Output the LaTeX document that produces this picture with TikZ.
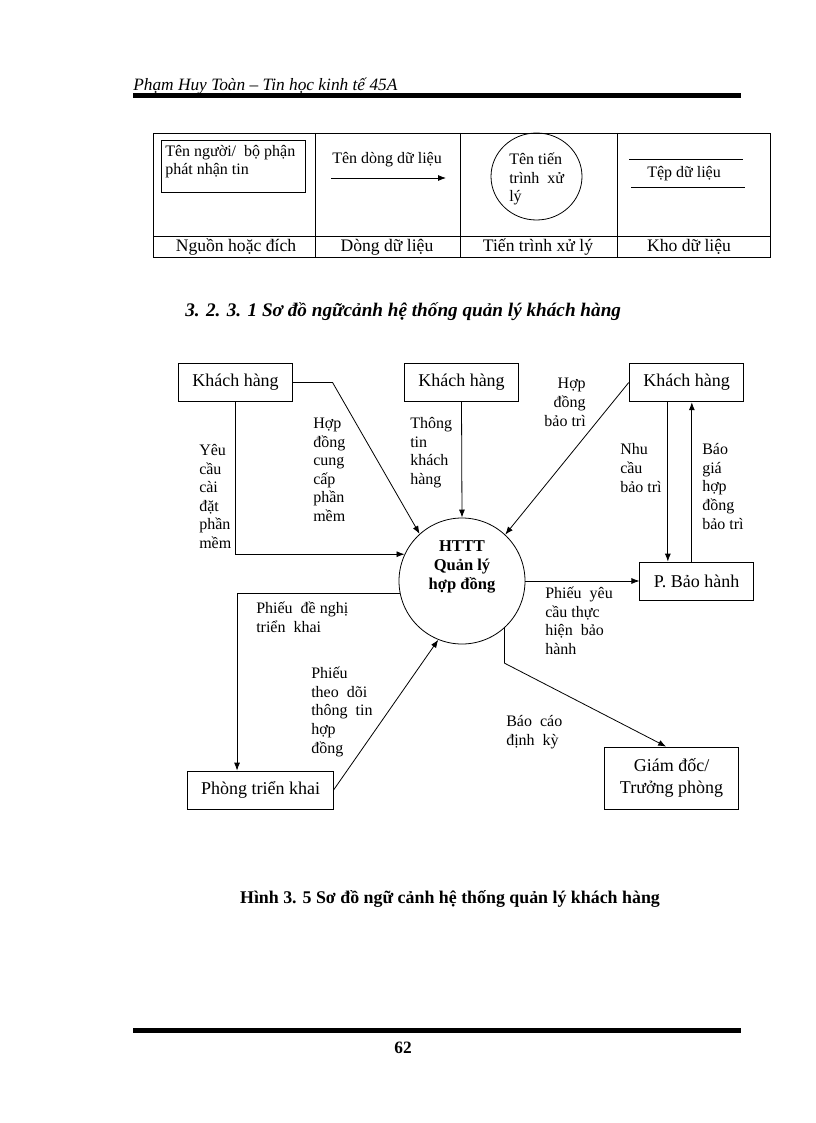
\documentclass[tikz,border=0pt]{standalone}
\usepackage{fontspec}
\setmainfont{Liberation Serif}
\usetikzlibrary{arrows.meta,positioning,calc}
\tikzset{
  ent/.style ={draw,line width=0.6pt,inner sep=0pt,align=center,font=\fontsize{13.5}{16.5}\selectfont},
  proc/.style={draw,line width=0.6pt,circle,inner sep=0pt,minimum size=94.5pt},
  flow/.style={draw,line width=0.6pt,-{Latex[length=6pt,width=4.5pt]}},
  lbl/.style ={inner sep=0pt,anchor=base west,align=left,font=\fontsize{12}{13.9}\selectfont},
  hdr/.style ={inner sep=0pt,anchor=base,font=\fontsize{13.2}{16}\selectfont},
  rule/.style={line width=3.75pt},
}

\begin{document}
\begin{tikzpicture}[x=0.75pt,y=-0.75pt]
  \useasboundingbox[fill=white] (0,0) rectangle (816,1123);

  % page head and foot
  \node[anchor=base west,inner sep=0pt,font=\fontsize{13}{15}\selectfont\itshape] (head) at (133,91)
    {Phạm Huy Toàn – Tin học kinh tế 45A};
  \draw[rule] (133,96) -- (741,96);
  \draw[rule] (133,1030) -- (741,1030);
  \node[anchor=base,inner sep=0pt,font=\fontsize{13}{15}\selectfont\bfseries] (pgno) at (403,1053) {62};

  % legend table
  \draw[line width=0.6pt] (153,133) rectangle (770,257);
  \draw[line width=0.6pt] (153,236) -- (770,236);
  \foreach \cx in {315,460,617}
    \draw[line width=0.6pt] (\cx,133) -- (\cx,257);
  \node[ent,minimum width=108pt,minimum height=39pt] (srcbox) at (233,166) {};
  \node[lbl] (srctxt) at (165,175) {Tên người/\ \ bộ phận\\phát nhận tin};
  \node[lbl] (flowtxt) at (332,164) {Tên dòng dữ liệu};
  \coordinate (fa) at (331,178);
  \coordinate (fb) at (446,178);
  \draw[flow] (fa) -- (fb);
  \draw[line width=0.6pt] (536.5,176.5) ellipse [x radius=45.5, y radius=43.5];
  \node[lbl] (proctxt) at (509,202) {Tên tiến\\trình\ \ xử\\lý};
  \draw[line width=0.6pt] (629,159) -- (743,159);
  \draw[line width=0.6pt] (631,187) -- (745,187);
  \node[lbl] (storetxt) at (647,178) {Tệp dữ liệu};
  \node[hdr] (h1) at (236,252) {Nguồn hoặc đích};
  \node[hdr] (h2) at (387,252) {Dòng dữ liệu};
  \node[hdr] (h3) at (538,252) {Tiến trình xử lý};
  \node[hdr] (h4) at (689,252) {Kho dữ liệu};

  % section title
  \node[anchor=base west,inner sep=0pt,font=\fontsize{14.4}{16}\selectfont\bfseries\itshape] (sec) at (185,316)
    {3. 2. 3. 1 Sơ đồ ngữcảnh hệ thống quản lý khách hàng};

  % entities and process
  \node[ent,minimum width=85pt,minimum height=29pt] (kh1) at (235.5,382.5) {Khách hàng};
  \node[ent,minimum width=86pt,minimum height=29pt] (kh2) at (461.5,382.5) {Khách hàng};
  \node[ent,minimum width=86pt,minimum height=29pt] (kh3) at (686.5,382.5) {Khách hàng};
  \node[ent,minimum width=85pt,minimum height=28.5pt] (pbh) at (696.5,581) {P. Bảo hành};
  \node[ent,minimum width=109pt,minimum height=28.5pt] (ptk) at (260.5,790) {Phòng triển khai};
  \node[ent,minimum width=101pt,minimum height=46.5pt] (gd) at (671.5,778) {Giám đốc/\\Trưởng phòng};
  \node[proc] (ht) at (462,581) {};
  \node[inner sep=0pt,align=center,font=\fontsize{12.4}{14}\selectfont\bfseries] (httxt) at (462,567)
    {HTTT\\Quản lý\\hợp đồng};

  % flows
  \draw[flow] (kh1.south) |- (ht.155);
  \draw[flow] (kh1.east) -- ++(40,0) -- (ht.132);
  \draw[flow] (kh2.south) -- (ht.north);
  \draw[flow] (kh3.west) -- (ht.47);
  \draw[flow] ([xshift=-14pt]kh3.south) -- ([xshift=-14pt]kh3.south |- pbh.north);
  \draw[flow] ([xshift=4pt]kh3.south |- pbh.north) -- ([xshift=4pt]kh3.south);
  \draw[flow] (ht.east) -- (pbh.west);
  \draw[flow] (ht.191) -| ([xshift=-17.6pt]ptk.north);
  \draw[flow] (ptk.east) -- (ht.248);
  \draw[flow] (ht.312) -- ++(0,35) -- ([xshift=-4pt]gd.north);

  % flow labels (anchored at the last line)
  \node[lbl] (l1) at (199,548.5) {Yêu\\cầu\\cài\\đặt\\phần\\mềm};
  \node[lbl] (l2) at (313,521.5) {Hợp\\đồng\\cung\\cấp\\phần\\mềm};
  \node[lbl] (l3) at (410,484.5) {Thông\\tin\\khách\\hàng};
  \node[lbl,anchor=base east,align=right] (l4) at (586,426) {Hợp\\đồng\\bảo trì};
  \node[lbl] (l5) at (620,492) {Nhu\\cầu\\bảo trì};
  \node[lbl] (l6) at (702,529) {Báo\\giá\\hợp\\đồng\\bảo trì};
  \node[lbl] (l7) at (545,654.5) {Phiếu\ \ yêu\\cầu thực\\hiện\ \ bảo\\hành};
  \node[lbl] (l8) at (256,632.5) {Phiếu\ \ đề nghị\\triển\ \ khai};
  \node[lbl] (l9) at (311,753) {Phiếu\\theo\ \ dõi\\thông\ \ tin\\hợp\\đồng};
  \node[lbl] (l10) at (506,745.5) {Báo\ \ cáo\\định\ \ kỳ};

  % caption
  \node[anchor=base,inner sep=0pt,font=\fontsize{13.4}{16}\selectfont\bfseries] (cap) at (450,903)
    {Hình 3. 5 Sơ đồ ngữ cảnh hệ thống quản lý khách hàng};
\end{tikzpicture}
\end{document}
